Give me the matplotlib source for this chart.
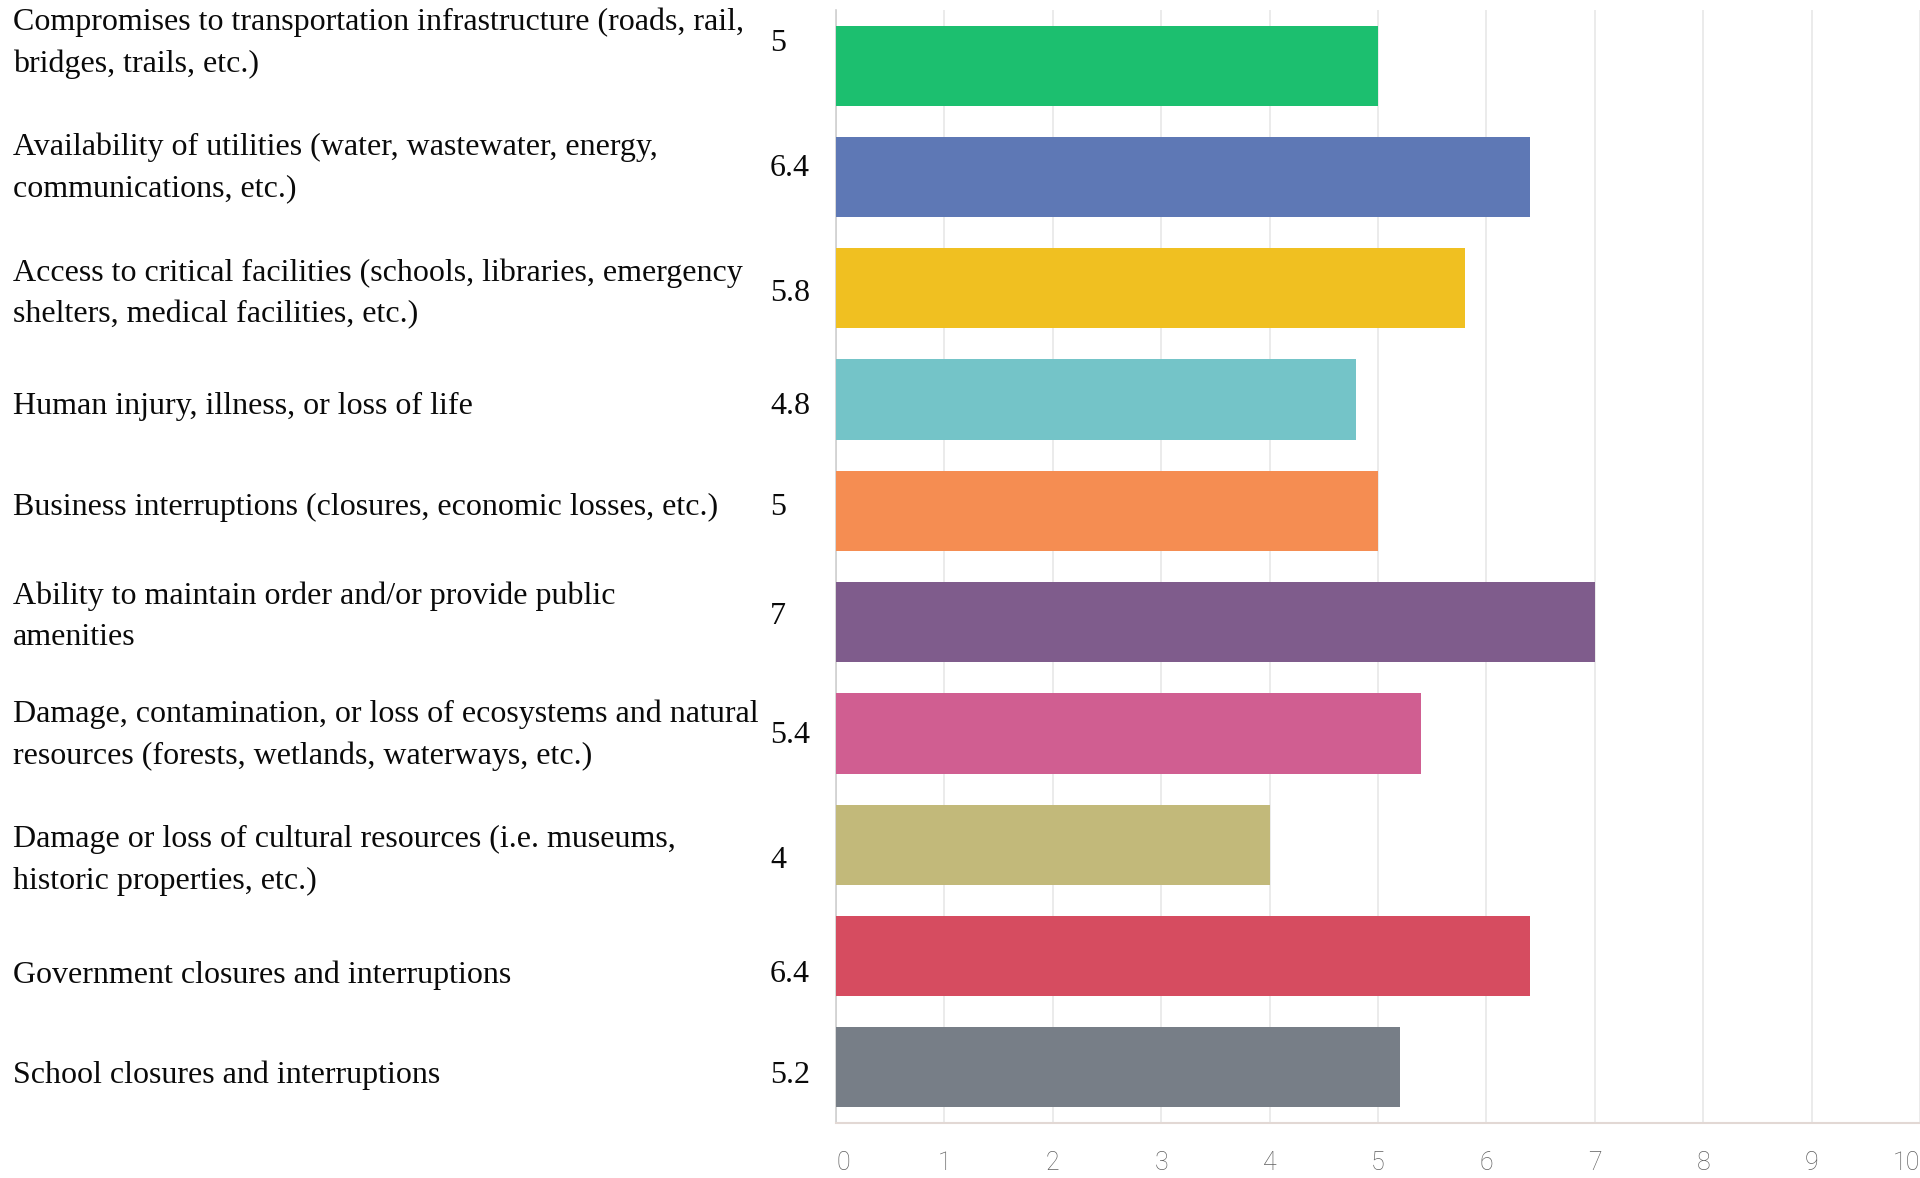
import matplotlib
matplotlib.use("Agg")
import matplotlib.pyplot as plt

# Survey items and their average ratings
categories = [
    "Compromises to transportation infrastructure (roads, rail,\nbridges, trails, etc.)",
    "Availability of utilities (water, wastewater, energy,\ncommunications, etc.)",
    "Access to critical facilities (schools, libraries, emergency\nshelters, medical facilities, etc.)",
    "Human injury, illness, or loss of life",
    "Business interruptions (closures, economic losses, etc.)",
    "Ability to maintain order and/or provide public\namenities",
    "Damage, contamination, or loss of ecosystems and natural\nresources (forests, wetlands, waterways, etc.)",
    "Damage or loss of cultural resources (i.e. museums,\nhistoric properties, etc.)",
    "Government closures and interruptions",
    "School closures and interruptions",
]
values = [5, 6.4, 5.8, 4.8, 5, 7, 5.4, 4, 6.4, 5.2]
value_labels = ["5", "6.4", "5.8", "4.8", "5", "7", "5.4", "4", "6.4", "5.2"]
x_ticks = [0, 1, 2, 3, 4, 5, 6, 7, 8, 9, 10]

bar_colors = ["#1cbf6f", "#5e78b5", "#f0c021", "#74c4c8", "#f58d52",
              "#7f5c8c", "#d05e91", "#c2b97a", "#d64c60", "#777e87"]

# vertical nudges of the row labels (rows of the text table are not evenly spaced)
label_shift = [-0.20, -0.08, 0.05, 0.06, -0.03, -0.05, 0.02, 0.14, 0.17, 0.07]

fig = plt.figure(figsize=(19.2, 11.78), dpi=100)
fig.patch.set_facecolor("white")
ax = fig.add_axes([836 / 1920, 1 - 1123 / 1178, 1 - 836 / 1920, (1123 - 10) / 1178])

ypos = list(range(len(categories)))
ax.barh(ypos, values, height=0.72, color=bar_colors, zorder=3)

ax.set_xlim(x_ticks[0], x_ticks[-1])
ax.set_ylim(len(categories) - 0.5, -0.5)
ax.set_xticks(x_ticks)
ax.set_xticklabels([str(t) for t in x_ticks])
ax.set_yticks([])
ax.xaxis.grid(True, color="#e8e8e8", linewidth=1.2, zorder=0)
ax.tick_params(axis="x", length=0, pad=20, labelsize=18, labelcolor="#5f5f5f")
xlabels = ax.get_xticklabels()
for lab in xlabels:
    lab.set_family("Roboto")
    lab.set_fontweight("light")
# keep the end labels inside the plotting area
xlabels[0].set_horizontalalignment("left")
xlabels[-1].set_horizontalalignment("right")

for side in ("top", "right"):
    ax.spines[side].set_visible(False)
ax.spines["left"].set_color("#cfcfcf")
ax.spines["bottom"].set_color("#e2d8d4")
ax.spines["left"].set_linewidth(1.2)
ax.spines["bottom"].set_linewidth(1.5)

# Row labels and values on the left, in figure pixel-x with data-y
trans = matplotlib.transforms.blended_transform_factory(fig.transFigure, ax.transData)
for i, (cat, vl) in enumerate(zip(categories, value_labels)):
    y = i + label_shift[i]
    ax.text(13 / 1920, y, cat, transform=trans, ha="left", va="center",
            family="Liberation Serif", fontsize=23, linespacing=1.56,
            color="#0a0a0a", clip_on=False)
    ax.text(770 / 1920, y, vl, transform=trans, ha="left", va="center",
            family="Liberation Serif", fontsize=23, color="#0a0a0a", clip_on=False)

fig.savefig("out.png", dpi=100, facecolor="white")
